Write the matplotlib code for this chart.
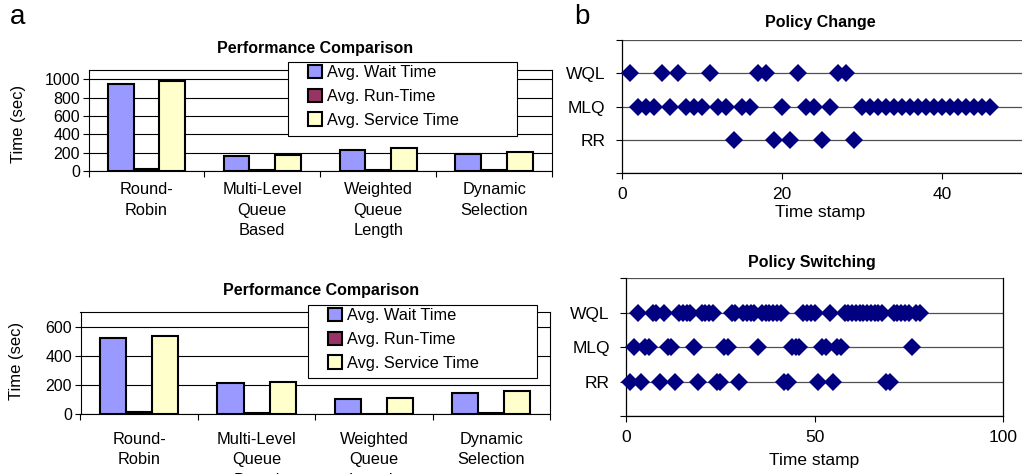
import matplotlib
matplotlib.use('Agg')
import matplotlib.pyplot as plt
from matplotlib.patches import Patch, Rectangle
import numpy as np

plt.rcParams['font.family'] = ['Liberation Sans', 'DejaVu Sans']

# ---------------- data ----------------
categories = ['Round-\nRobin', 'Multi-Level\nQueue\nBased', 'Weighted\nQueue\nLength', 'Dynamic\nSelection']
series_names = ['Avg. Wait Time', 'Avg. Run-Time', 'Avg. Service Time']
series_colors = ['#9999FF', '#993366', '#FFFFCC']

top_wait = [949, 162, 227, 188]
top_run = [18, 9, 10, 9]
top_service = [978, 177, 249, 204]
top_yticks = [0, 200, 400, 600, 800, 1000]

bottom_wait = [520, 211, 103, 147]
bottom_run = [15, 8, 3, 10]
bottom_service = [536, 220, 108, 158]
bottom_yticks = [0, 200, 400, 600]

policies = ['RR', 'MLQ', 'WQL']

change_rr = [14, 19, 21, 25, 29]
change_mlq = [2, 3, 4, 6, 8, 9, 10, 12, 13, 15, 16, 20, 23, 24, 26,
              30, 31, 32, 33, 34, 35, 36, 37, 38, 39, 40, 41, 42, 43, 44, 45, 46]
change_wql = [1, 5, 7, 11, 17, 18, 22, 27, 28]
change_xticks = [0, 20, 40]

switch_rr = [1, 4, 9, 13, 19, 24, 25, 30, 42, 43, 51, 55, 69, 70]
switch_mlq = [2, 5, 6, 11, 12, 18, 26, 27, 35, 44, 45, 46, 52, 53, 56, 57, 76]
switch_wql = [3, 7, 8, 10, 14, 15, 16, 17, 20, 21, 22, 23, 28, 29, 31, 32, 33, 34,
              36, 37, 38, 39, 40, 41, 47, 48, 49, 50, 54, 58, 59, 60, 61, 62, 63,
              64, 65, 66, 67, 68, 71, 72, 73, 74, 75, 77, 78]
switch_xticks = [0, 50, 100]

# ---------------- figure ----------------
W, H = 1022, 474
fig = plt.figure(figsize=(W / 100, H / 100), dpi=100)


def ax_px(left, top, right, bottom):
    return fig.add_axes([left / W, 1 - bottom / H, (right - left) / W, (bottom - top) / H])


def bar_chart(ax, vals, ymax, yticks, legend_box, title_xy, ylabel_xy, xpad):
    n = len(categories)
    x = np.arange(n)
    bw = 0.222
    for i, (v, c, name) in enumerate(zip(vals, series_colors, series_names)):
        ax.bar(x + (i - 1) * bw, v, width=bw, color=c, edgecolor='black',
               linewidth=1.5, zorder=3, label=name)
    ax.set_xlim(-0.5, n - 0.5)
    ax.set_ylim(0, ymax)
    ax.set_yticks(yticks)
    ax.tick_params(axis='y', length=4, width=0.8, pad=2, labelsize=11.5, direction='out')
    ax.set_xticks(x)
    ax.set_xticklabels(categories, fontsize=11.8, linespacing=1.45, va='top')
    ax.tick_params(axis='x', length=0, pad=xpad)
    ax.set_xticks(np.arange(n + 1) - 0.5, minor=True)
    ax.tick_params(axis='x', which='minor', length=4, width=0.8, direction='out')
    ax.yaxis.grid(True, color='black', linewidth=0.8, zorder=0)
    ax.set_axisbelow(True)
    for s in ax.spines.values():
        s.set_linewidth(0.8)
        s.set_color('black')
    fig.text(ylabel_xy[0] / W, 1 - ylabel_xy[1] / H, 'Time (sec)', rotation=90,
             ha='center', va='center', fontsize=12)
    # legend frame
    l, t, r, b = legend_box
    fig.patches.append(Rectangle((l / W, 1 - b / H), (r - l) / W, (b - t) / H,
                                 transform=fig.transFigure, facecolor='white',
                                 edgecolor='black', linewidth=0.8, zorder=5))
    handles = [Patch(facecolor=c, edgecolor='black', linewidth=1.5) for c in series_colors]
    leg = fig.legend(handles, series_names, loc='upper left',
                     bbox_to_anchor=((l + 20) / W, 1 - (t + 3) / H),
                     fontsize=11.8, frameon=False, borderaxespad=0, borderpad=0,
                     handlelength=0.85, handleheight=0.85,
                     handletextpad=0.3, labelspacing=0.52)
    leg.set_zorder(6)
    fig.text(title_xy[0] / W, 1 - title_xy[1] / H, 'Performance Comparison',
             ha='center', va='center', fontsize=11.5, fontweight='bold')


def dot_chart(ax, rr, mlq, wql, xmax, xticks, title_xy, xlabel_xy, title, right_spine):
    for yv, xs in zip([1, 2, 3], [rr, mlq, wql]):
        ax.plot(xs, [yv] * len(xs), linestyle='none', marker='D', markersize=9.5,
                color='#000080', markeredgewidth=0, zorder=3, clip_on=False)
    ax.set_xlim(0, xmax)
    ax.set_ylim(0, 4)
    ax.set_yticks([0, 1, 2, 3, 4])
    ax.set_yticklabels(['', 'RR', 'MLQ', 'WQL', ''], fontsize=12.5)
    ax.set_xticks(xticks)
    ax.tick_params(axis='y', length=4, width=0.8, pad=8, direction='out')
    ax.tick_params(axis='x', length=4, width=0.8, pad=6, labelsize=12.5, direction='out')
    ax.yaxis.grid(True, color='#505050', linewidth=0.9, zorder=0)
    ax.set_axisbelow(True)
    ax.spines['top'].set_visible(False)
    ax.spines['right'].set_visible(right_spine)
    for s in ax.spines.values():
        s.set_linewidth(0.9)
        s.set_color('black')
    fig.text(title_xy[0] / W, 1 - title_xy[1] / H, title,
             ha='center', va='center', fontsize=11.5, fontweight='bold')
    fig.text(xlabel_xy[0] / W, 1 - xlabel_xy[1] / H, 'Time stamp',
             ha='center', va='center', fontsize=12.5)


ax1 = ax_px(88.5, 70, 552, 171)
bar_chart(ax1, [top_wait, top_run, top_service], 1100, top_yticks,
          (288, 62, 517, 136), (315, 48), (19, 124), 8)

ax2 = ax_px(80.5, 312, 550, 414)
bar_chart(ax2, [bottom_wait, bottom_run, bottom_service], 700, bottom_yticks,
          (308, 305, 537, 378), (321, 291), (17, 361), 13)

ax3 = ax_px(622, 40, 1022, 173)
dot_chart(ax3, change_rr, change_mlq, change_wql, 50, change_xticks,
          (820, 23), (820, 213), 'Policy Change', False)

ax4 = ax_px(626.3, 278.3, 1002.7, 416)
dot_chart(ax4, switch_rr, switch_mlq, switch_wql, 100, switch_xticks,
          (812, 262), (814, 460), 'Policy Switching', True)

fig.text(18 / W, 1 - 17 / H, 'a', ha='center', va='center', fontsize=20)
fig.text(582 / W, 1 - 17 / H, 'b', ha='center', va='center', fontsize=20)

fig.savefig('out.png', dpi=100)
